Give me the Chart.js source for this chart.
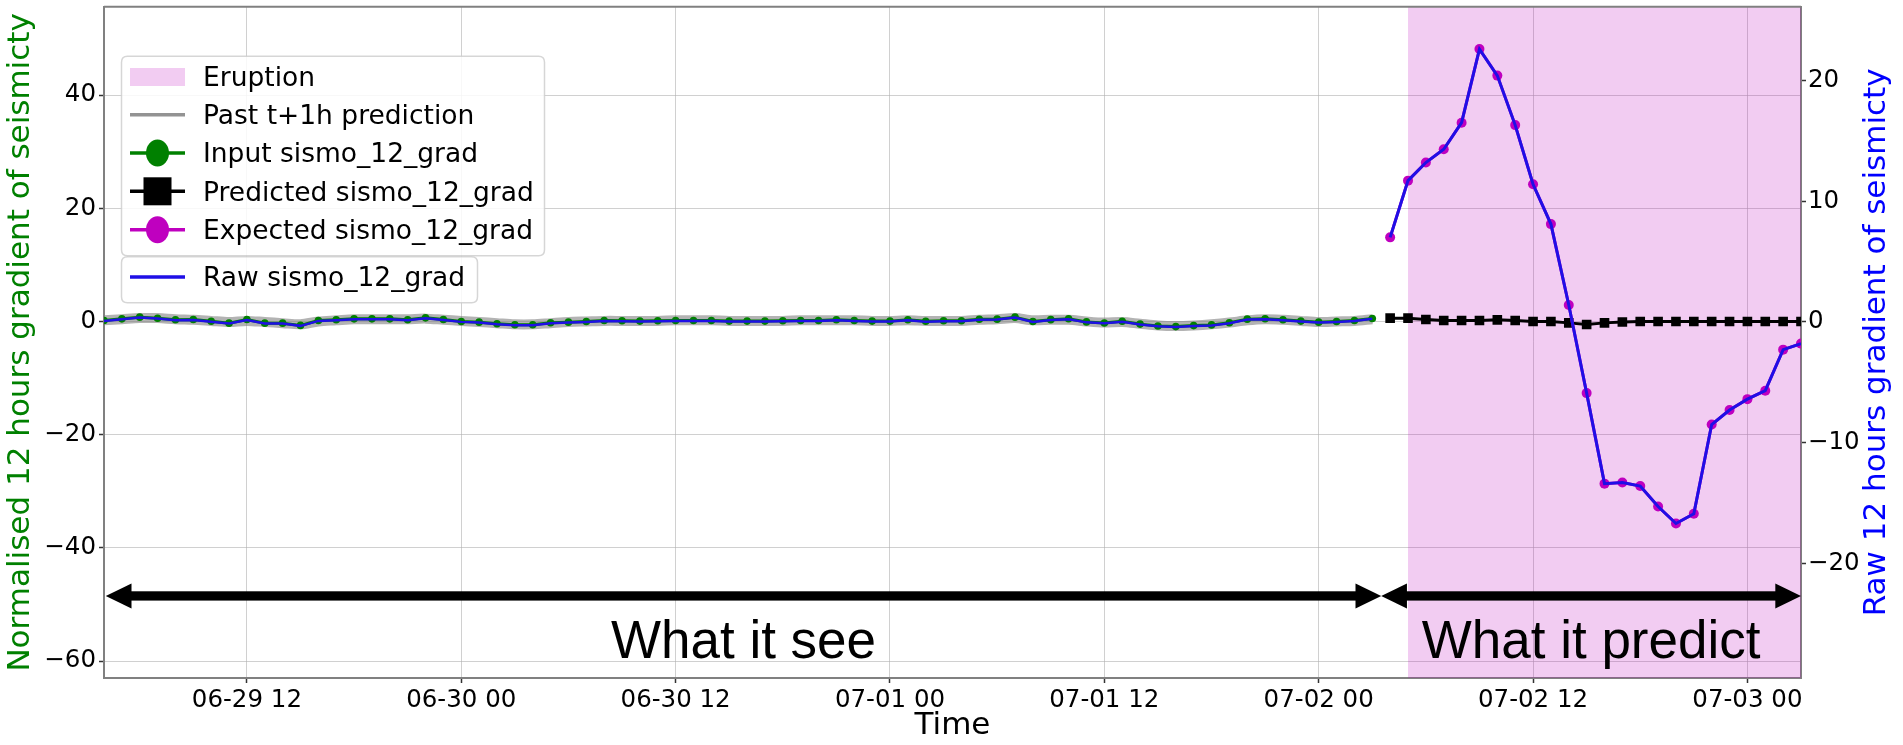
<!DOCTYPE html>
<html>
<head>
<meta charset="utf-8">
<script src="https://cdn.jsdelivr.net/npm/chart.js@4.4.1/dist/chart.umd.min.js"></script>
<style>
html,body{margin:0;padding:0;background:#fff;}
#wrap{width:1903px;height:745px;position:relative;}
</style>
</head>
<body>
<div id="wrap"><canvas id="c"></canvas></div>
<script>
// ---- time axis (hours since 06-29 00:00) ----
const xTickHours  = [12, 24, 36, 48, 60, 72, 84, 96];
const xTickLabels = ['06-29 12','06-30 00','06-30 12','07-01 00','07-01 12','07-02 00','07-02 12','07-03 00'];
const leftTicks  = [-60, -40, -20, 0, 20, 40];
const rightTicks = [-20, -10, 0, 10, 20];
const inputStartHour = 4;      // 06-29 04:00, hourly samples
const forecastStartHour = 76;  // 07-02 04:00, hourly samples
const eruptionStartHour = 77;  // 07-02 05:00
const windowEndHour = 99;      // 07-03 03:00

// ---- series ----
const inputValues = [
  0.17,0.46,0.76,0.58,0.29,0.35,0.05,-0.30,0.35,-0.30,
  -0.30,-0.70,0.17,0.29,0.46,0.46,0.46,0.29,0.64,0.35,
  0.00,-0.12,-0.41,-0.59,-0.59,-0.23,-0.12,0.00,0.17,0.12,
  0.06,0.12,0.17,0.17,0.18,0.06,0.06,0.06,0.12,0.18,
  0.18,0.29,0.18,0.06,0.06,0.30,0.03,0.12,0.12,0.38,
  0.41,0.76,0.00,0.32,0.47,-0.08,-0.26,0.03,-0.47,-0.79,
  -0.91,-0.73,-0.61,-0.23,0.41,0.47,0.29,0.06,-0.12,0.00,
  0.18,0.53];
const pastPredValues = [
  0.2,0.4,0.6,0.6,0.4,0.3,0.1,-0.1,0.1,-0.1,
  -0.3,-0.5,0.0,0.2,0.4,0.4,0.4,0.4,0.5,0.3,
  0.1,-0.1,-0.3,-0.5,-0.5,-0.3,-0.1,0.0,0.1,0.1,
  0.1,0.1,0.2,0.2,0.2,0.1,0.1,0.1,0.1,0.2,
  0.2,0.2,0.2,0.1,0.1,0.2,0.1,0.1,0.1,0.3,
  0.4,0.6,0.2,0.3,0.3,0.0,-0.2,-0.1,-0.4,-0.7,
  -0.8,-0.7,-0.5,-0.2,0.2,0.4,0.3,0.1,-0.1,0.0,
  0.1,0.4];
const rawInputValues = [
  0.08,0.22,0.36,0.27,0.14,0.16,0.02,-0.14,0.16,-0.14,
  -0.14,-0.33,0.08,0.14,0.22,0.22,0.22,0.14,0.30,0.16,
  0.00,-0.06,-0.19,-0.28,-0.28,-0.11,-0.06,0.00,0.08,0.06,
  0.03,0.06,0.08,0.08,0.08,0.03,0.03,0.03,0.06,0.08,
  0.08,0.14,0.08,0.03,0.03,0.14,0.01,0.06,0.06,0.18,
  0.19,0.36,0.00,0.15,0.22,-0.04,-0.12,0.01,-0.22,-0.37,
  -0.43,-0.34,-0.29,-0.11,0.19,0.22,0.14,0.03,-0.06,0.00,
  0.08,0.25];
const predictedValues = [
  0.58,0.58,0.35,0.17,0.17,0.17,0.29,0.17,0.00,0.00,-0.25,-0.53,
  -0.25,-0.10,0.00,0.00,0.00,0.00,0.00,0.00,0.00,0.00,0.00,0.00];
const expectedValues = [
  7.0,11.7,13.2,14.3,16.5,22.6,20.4,16.3,11.4,8.1,1.4,-5.9,
  -13.4,-13.3,-13.6,-15.3,-16.7,-15.9,-8.5,-7.3,-6.4,-5.7,-2.3,-1.8];

const seriesNames = ['Eruption','Past t+1h prediction','Input sismo_12_grad',
  'Predicted sismo_12_grad','Expected sismo_12_grad','Raw sismo_12_grad'];
const annotationTexts = ['What it see','What it predict'];
const arrowSee = [4.1, 75.5];
const arrowPredict = [75.5, 99];
const arrowLevel = -48.5;
const annotationTextLevel = -59.4;

const leftRange = [-63.0, 55.6];
const rightRange = [-29.5, 26.1];

// ---- colours ----
const C_GREEN = '#008000', C_MAG = '#bf00bf', C_BLUE = '#1f0fe6';
const C_SPAN = 'rgba(191,0,191,0.2)', C_GRAY = 'rgba(128,128,128,0.6)';

const hourly = (vals, start) => vals.map((v, i) => ({x: start + i, y: v}));
const fmt = v => (v < 0 ? '\u2212' + Math.abs(v) : String(v));

Chart.defaults.font.family = '"DejaVu Sans", sans-serif';
Chart.defaults.color = '#000';

function doubleArrow(ctx, x1, x2, y) {
  const lw = 9.3, hl = 25.7, hw = 12.5;
  ctx.fillStyle = '#000';
  ctx.fillRect(x1 + hl - 1, y - lw / 2, (x2 - hl + 1) - (x1 + hl - 1), lw);
  ctx.beginPath();
  ctx.moveTo(x1, y); ctx.lineTo(x1 + hl, y - hw); ctx.lineTo(x1 + hl, y + hw); ctx.closePath();
  ctx.fill();
  ctx.beginPath();
  ctx.moveTo(x2, y); ctx.lineTo(x2 - hl, y - hw); ctx.lineTo(x2 - hl, y + hw); ctx.closePath();
  ctx.fill();
}
function rrect(ctx, x, y, w, h, r) {
  ctx.beginPath();
  ctx.moveTo(x + r, y); ctx.lineTo(x + w - r, y); ctx.quadraticCurveTo(x + w, y, x + w, y + r);
  ctx.lineTo(x + w, y + h - r); ctx.quadraticCurveTo(x + w, y + h, x + w - r, y + h);
  ctx.lineTo(x + r, y + h); ctx.quadraticCurveTo(x, y + h, x, y + h - r);
  ctx.lineTo(x, y + r); ctx.quadraticCurveTo(x, y, x + r, y);
  ctx.closePath();
}

const overlay = {
  id: 'overlay',
  afterDatasetsDraw(chart) {
    const {ctx, scales} = chart;
    const x = scales.x, yL = scales.yL;
    ctx.save();
    const ay = yL.getPixelForValue(arrowLevel);
    const s0 = x.getPixelForValue(arrowSee[0]), s1 = x.getPixelForValue(arrowSee[1]);
    const p0 = x.getPixelForValue(arrowPredict[0]), p1 = x.getPixelForValue(arrowPredict[1]);
    doubleArrow(ctx, s0, s1, ay);
    doubleArrow(ctx, p0, p1, ay);
    ctx.font = '53px "Liberation Sans", Arial, sans-serif';
    ctx.fillStyle = '#000';
    ctx.textAlign = 'center';
    ctx.textBaseline = 'alphabetic';
    const ty = yL.getPixelForValue(annotationTextLevel);
    ctx.fillText(annotationTexts[0], (s0 + s1) / 2, ty);
    ctx.fillText(annotationTexts[1], (p0 + p1) / 2, ty);
    ctx.restore();
  },
  afterDraw(chart) {
    const {ctx, chartArea: a} = chart;
    ctx.save();
    // top spine
    ctx.strokeStyle = '#808080'; ctx.lineWidth = 2;
    ctx.beginPath(); ctx.moveTo(a.left, a.top); ctx.lineTo(a.right, a.top); ctx.stroke();

    // legend
    const L = a.left + 17.5;
    ctx.lineWidth = 1.5;
    rrect(ctx, L, a.top + 49.5, 423, 199.5, 6);
    ctx.fillStyle = 'rgba(255,255,255,0.85)'; ctx.fill();
    ctx.strokeStyle = 'rgba(204,204,204,0.8)'; ctx.stroke();
    rrect(ctx, L, a.top + 250, 356, 46, 6);
    ctx.fillStyle = 'rgba(255,255,255,0.85)'; ctx.fill();
    ctx.stroke();

    const hx0 = L + 8.5, hx1 = L + 63.5, hc = (hx0 + hx1) / 2, tx = L + 81.5;
    const rows = [70.2, 107.9, 146.2, 184.5, 222.9, 270.2].map(v => a.top + v);
    const line = (yy, col) => {
      ctx.strokeStyle = col; ctx.lineWidth = 3.5;
      ctx.beginPath(); ctx.moveTo(hx0, yy); ctx.lineTo(hx1, yy); ctx.stroke();
    };
    // Eruption patch
    ctx.fillStyle = C_SPAN;
    ctx.fillRect(hx0, rows[0] - 9, 55, 18);
    // past prediction
    line(rows[1], 'rgba(128,128,128,0.85)');
    // input
    line(rows[2], C_GREEN);
    ctx.fillStyle = C_GREEN;
    ctx.beginPath(); ctx.ellipse(hc, rows[2], 11.5, 13.5, 0, 0, Math.PI * 2); ctx.fill();
    // predicted
    line(rows[3], '#000');
    ctx.fillStyle = '#000';
    ctx.fillRect(hc - 14, rows[3] - 14, 28, 28);
    // expected
    line(rows[4], C_MAG);
    ctx.fillStyle = C_MAG;
    ctx.beginPath(); ctx.ellipse(hc, rows[4], 11.5, 13.5, 0, 0, Math.PI * 2); ctx.fill();
    // raw
    line(rows[5], C_BLUE);

    ctx.fillStyle = '#000';
    ctx.font = '26.5px "DejaVu Sans"';
    ctx.textAlign = 'left';
    ctx.textBaseline = 'alphabetic';
    rows.forEach((yy, i) => ctx.fillText(seriesNames[i], tx, yy + 9.4));

    // right axis title (reads bottom-to-top)
    ctx.save();
    ctx.translate(chart.width - 26, (a.top + a.bottom) / 2);
    ctx.rotate(-Math.PI / 2);
    ctx.font = '31px "DejaVu Sans"';
    ctx.fillStyle = '#0000ff';
    ctx.textAlign = 'center';
    ctx.textBaseline = 'middle';
    ctx.fillText('Raw 12 hours gradient of seismicty', 0, 0);
    ctx.restore();
    ctx.restore();
  }
};

const gridCommon = {color: 'rgba(176,176,176,0.6)', lineWidth: 1, tickLength: 5, tickColor: '#333', tickWidth: 1.5};
const tickFont = {size: 24.5, family: '"DejaVu Sans"'};

new Chart(document.getElementById('c'), {
  type: 'line',
  data: {
    datasets: [
      {label: seriesNames[5] + ' (forecast window)', yAxisID: 'yR', data: hourly(expectedValues, forecastStartHour),
       borderColor: C_BLUE, borderWidth: 3, pointRadius: 0, fill: false, tension: 0},
      {label: seriesNames[5], yAxisID: 'yR', data: hourly(rawInputValues, inputStartHour),
       borderColor: C_BLUE, borderWidth: 2.5, pointRadius: 0, fill: false, tension: 0},
      {label: seriesNames[4], yAxisID: 'yR', data: hourly(expectedValues, forecastStartHour),
       borderColor: C_MAG, borderWidth: 3, pointRadius: 5, pointBorderWidth: 0,
       pointBackgroundColor: C_MAG, fill: false, tension: 0},
      {label: seriesNames[3], yAxisID: 'yL', data: hourly(predictedValues, forecastStartHour),
       borderColor: '#000', borderWidth: 3, pointStyle: 'rect', pointRadius: 6.8, pointBorderWidth: 0,
       pointBackgroundColor: '#000', fill: false, tension: 0},
      {label: seriesNames[2], yAxisID: 'yL', data: hourly(inputValues, inputStartHour),
       borderColor: C_GREEN, borderWidth: 3, pointRadius: 3.8, pointBorderWidth: 0,
       pointBackgroundColor: C_GREEN, fill: false, tension: 0},
      {label: seriesNames[1], yAxisID: 'yL', data: hourly(pastPredValues, inputStartHour),
       borderColor: C_GRAY, borderWidth: 10, pointRadius: 0, fill: false, tension: 0.3},
      {label: seriesNames[0], yAxisID: 'yL',
       data: [{x: eruptionStartHour, y: leftRange[1]}, {x: windowEndHour, y: leftRange[1]}],
       borderWidth: 0, borderColor: 'rgba(0,0,0,0)', backgroundColor: C_SPAN, pointRadius: 0, fill: 'start'}
    ]
  },
  options: {
    responsive: true,
    maintainAspectRatio: false,
    animation: false,
    events: [],
    layout: {padding: {top: 3, left: 0, right: 0, bottom: 0}},
    plugins: {legend: {display: false}, tooltip: {enabled: false}},
    scales: {
      x: {
        type: 'linear', min: inputStartHour, max: windowEndHour,
        afterBuildTicks: s => { s.ticks = xTickHours.map(v => ({value: v})); },
        ticks: {callback: v => { const i = xTickHours.indexOf(v); return i >= 0 ? xTickLabels[i] : ''; },
                font: tickFont, color: '#000', padding: 3, maxRotation: 0, autoSkip: false},
        grid: gridCommon,
        border: {display: true, color: '#808080', width: 2},
        title: {display: true, text: 'Time', color: '#000', font: {size: 31, family: '"DejaVu Sans"'},
                padding: {top: 0, bottom: 0}},
        afterFit: s => { s.height = 67; s.paddingLeft = 0; s.paddingRight = 0; }
      },
      yL: {
        type: 'linear', position: 'left', min: leftRange[0], max: leftRange[1],
        afterBuildTicks: s => { s.ticks = leftTicks.map(v => ({value: v})); },
        ticks: {callback: fmt, font: tickFont, color: '#000', padding: 3},
        grid: gridCommon,
        border: {display: true, color: '#808080', width: 2},
        title: {display: true, text: 'Normalised 12 hours gradient of seismicty', color: C_GREEN,
                font: {size: 31, family: '"DejaVu Sans"'}, padding: {top: 2, bottom: 0}},
        afterFit: s => { s.width = 104; s.paddingTop = 0; s.paddingBottom = 0; }
      },
      yR: {
        type: 'linear', position: 'right', min: rightRange[0], max: rightRange[1],
        afterBuildTicks: s => { s.ticks = rightTicks.map(v => ({value: v})); },
        ticks: {callback: fmt, font: tickFont, color: '#000', padding: 2},
        grid: {drawOnChartArea: false, tickLength: 5, tickColor: '#333', tickWidth: 1.5},
        border: {display: true, color: '#808080', width: 2},
        title: {display: false},
        afterFit: s => { s.width = 102; s.paddingTop = 0; s.paddingBottom = 0; }
      }
    }
  },
  plugins: [overlay]
});
</script>
</body>
</html>
